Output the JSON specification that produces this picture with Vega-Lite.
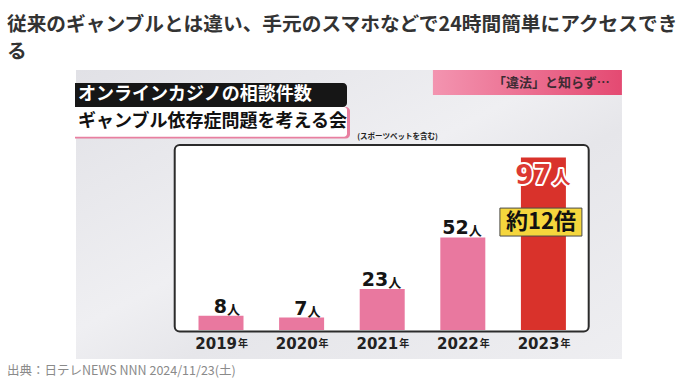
{
  "$schema": "https://vega.github.io/schema/vega-lite/v6.json",
  "width": 546,
  "height": 289,
  "autosize": {"type": "none"},
  "padding": {"left": 76, "top": 70, "right": 68, "bottom": 29},
  "background": "#ffffff",
  "config": {"view": {"stroke": null}, "text": {"font": "Noto Sans CJK JP"}},
  "title": {
    "text": ["従来のギャンブルとは違い、手元のスマホなどで24時間簡単にアクセスでき", "る"],
    "anchor": "start",
    "frame": "group",
    "dx": -69,
    "dy": 2,
    "offset": 10,
    "font": "Noto Sans CJK JP",
    "fontSize": 19.7,
    "fontWeight": "bold",
    "color": "#333333",
    "lineHeight": 27
  },
  "data": {"values": [
    {"year": "2019", "value": 8},
    {"year": "2020", "value": 7},
    {"year": "2021", "value": 23},
    {"year": "2022", "value": 52},
    {"year": "2023", "value": 97}
  ]},
  "encoding": {
    "x": {
      "field": "year", "type": "nominal",
      "scale": {"type": "band", "paddingInner": 0.226, "paddingOuter": 1, "align": 0.706},
      "axis": {"orient": "bottom", "offset": -16, "zindex": 2, "title": null, "domain": false, "ticks": false, "labelAngle": 0, "labelAlign": "right", "labelOffset": 16, "labelBaseline": "middle", "labelPadding": 0, "labelFont": "DejaVu Sans", "labelFontWeight": "bold", "labelFontSize": 15, "labelColor": "#222222", "grid": false}
    }
  },
  "layer": [
    {
      "data": {"values": [{}]},
      "mark": {"type": "rect", "fill": {"gradient": "linear", "x1": 0, "y1": 0, "x2": 1, "y2": 1, "stops": [{"offset": 0, "color": "#e1e1e6"}, {"offset": 0.45, "color": "#efeff2"}, {"offset": 0.6, "color": "#e6e6ea"}, {"offset": 1, "color": "#eeeef1"}]}},
      "encoding": {"x": null}
    },
    {
      "data": {"values": [{}]},
      "mark": {"type": "bar", "width": 189, "xOffset": -16, "fill": {"gradient": "linear", "x1": 0, "y1": 0, "x2": 1, "y2": 0, "stops": [{"offset": 0, "color": "#f394b0"}, {"offset": 1, "color": "#e44a72"}]}},
      "encoding": {"x": {"datum": "2023", "type": "nominal"}, "y": {"datum": 146.1, "type": "quantitative", "scale": {"domain": [-16.3, 146.1], "nice": false, "zero": false}, "axis": null}, "y2": {"datum": 132}}
    },
    {
      "data": {"values": [{}]},
      "mark": {"type": "text", "text": "「違法」と知らず…", "fontSize": 13, "fontWeight": "bold", "color": "#3d2b33", "align": "center", "baseline": "middle", "dx": 8},
      "encoding": {"x": {"datum": "2023", "type": "nominal"}, "y": {"datum": 138.8, "type": "quantitative"}}
    },
    {
      "data": {"values": [{}]},
      "mark": {"type": "bar", "width": 275, "xOffset": -8.5, "color": "#e87fa0", "cornerRadiusTopRight": 4, "cornerRadiusBottomRight": 4},
      "encoding": {"x": {"datum": "2019", "type": "nominal"}, "y": {"datum": 125.3, "type": "quantitative"}, "y2": {"datum": 107.6}}
    },
    {
      "data": {"values": [{}]},
      "mark": {"type": "bar", "width": 272, "xOffset": -10, "color": "#ffffff", "cornerRadiusTopRight": 3, "cornerRadiusBottomRight": 3},
      "encoding": {"x": {"datum": "2019", "type": "nominal"}, "y": {"datum": 125.3, "type": "quantitative"}, "y2": {"datum": 108.6}}
    },
    {
      "data": {"values": [{}]},
      "mark": {"type": "bar", "width": 272, "xOffset": -10, "color": "#161616", "cornerRadiusTopRight": 4, "cornerRadiusBottomRight": 4},
      "encoding": {"x": {"datum": "2019", "type": "nominal"}, "y": {"datum": 138.8, "type": "quantitative"}, "y2": {"datum": 125.3}}
    },
    {
      "data": {"values": [{}]},
      "mark": {"type": "text", "text": "オンラインカジノの相談件数", "fontSize": 18, "fontWeight": "bold", "color": "#ffffff", "align": "left", "baseline": "middle", "dx": -143},
      "encoding": {"x": {"datum": "2019", "type": "nominal"}, "y": {"datum": 132, "type": "quantitative"}}
    },
    {
      "data": {"values": [{}]},
      "mark": {"type": "text", "text": "ギャンブル依存症問題を考える会", "fontSize": 18, "fontWeight": "bold", "color": "#111111", "align": "left", "baseline": "middle", "dx": -143},
      "encoding": {"x": {"datum": "2019", "type": "nominal"}, "y": {"datum": 116.9, "type": "quantitative"}}
    },
    {
      "data": {"values": [{}]},
      "mark": {"type": "text", "text": "(スポーツベットを含む)", "fontSize": 7.5, "fontWeight": "bold", "color": "#222222", "align": "left", "baseline": "middle", "dx": -25},
      "encoding": {"x": {"datum": "2021", "type": "nominal"}, "y": {"datum": 108.4, "type": "quantitative"}}
    },
    {
      "data": {"values": [{}]},
      "mark": {"type": "bar", "width": 414, "xOffset": -0.5, "fill": "#ffffff", "stroke": "#2b2b2b", "strokeWidth": 2, "cornerRadius": 5},
      "encoding": {"x": {"datum": "2021", "type": "nominal"}, "y": {"datum": 104, "type": "quantitative"}, "y2": {"datum": -0.9}}
    },
    {
      "mark": {"type": "bar", "width": 45},
      "encoding": {
        "y": {"field": "value", "type": "quantitative"},
        "y2": {"datum": 0},
        "color": {"condition": {"test": "datum.year === '2023'", "value": "#d9322b"}, "value": "#e9789f"}
      }
    },
    {
      "transform": [{"filter": "datum.year !== '2023'"}],
      "mark": {"type": "text", "font": "DejaVu Sans", "fontWeight": "bold", "fontSize": 19, "color": "#151515", "align": "right", "baseline": "alphabetic", "dx": 6, "dy": -3},
      "encoding": {"y": {"field": "value", "type": "quantitative"}, "text": {"field": "value", "type": "quantitative"}}
    },
    {
      "transform": [{"filter": "datum.year !== '2023'"}],
      "mark": {"type": "text", "text": "人", "fontWeight": "bold", "fontSize": 13, "color": "#151515", "align": "left", "baseline": "alphabetic", "dx": 6, "dy": -2},
      "encoding": {"y": {"field": "value", "type": "quantitative"}}
    },
    {
      "transform": [{"filter": "datum.year === '2023'"}],
      "mark": {"type": "text", "font": "DejaVu Sans", "fontWeight": "bold", "fontSize": 26, "fill": "#ffffff", "stroke": "#ffffff", "strokeWidth": 4, "strokeJoin": "round", "align": "right", "baseline": "alphabetic", "dx": 8, "dy": 27},
      "encoding": {"y": {"field": "value", "type": "quantitative"}, "text": {"field": "value", "type": "quantitative"}}
    },
    {
      "transform": [{"filter": "datum.year === '2023'"}],
      "mark": {"type": "text", "font": "DejaVu Sans", "fontWeight": "bold", "fontSize": 26, "fill": "#dc3a33", "align": "right", "baseline": "alphabetic", "dx": 8, "dy": 27},
      "encoding": {"y": {"field": "value", "type": "quantitative"}, "text": {"field": "value", "type": "quantitative"}}
    },
    {
      "transform": [{"filter": "datum.year === '2023'"}],
      "mark": {"type": "text", "text": "人", "fontWeight": "bold", "fontSize": 18, "fill": "#ffffff", "stroke": "#ffffff", "strokeWidth": 4, "strokeJoin": "round", "align": "left", "baseline": "alphabetic", "dx": 9, "dy": 27},
      "encoding": {"y": {"field": "value", "type": "quantitative"}}
    },
    {
      "transform": [{"filter": "datum.year === '2023'"}],
      "mark": {"type": "text", "text": "人", "fontWeight": "bold", "fontSize": 18, "fill": "#dc3a33", "align": "left", "baseline": "alphabetic", "dx": 9, "dy": 27},
      "encoding": {"y": {"field": "value", "type": "quantitative"}}
    },
    {
      "data": {"values": [{}]},
      "mark": {"type": "bar", "width": 82, "xOffset": -2.5, "fill": "#f5d63d", "stroke": "#4a4a4a", "strokeWidth": 1},
      "encoding": {"x": {"datum": "2023", "type": "nominal"}, "y": {"datum": 68.5, "type": "quantitative"}, "y2": {"datum": 52.8}}
    },
    {
      "data": {"values": [{}]},
      "mark": {"type": "text", "text": "約12倍", "fontSize": 22, "fontWeight": "bold", "color": "#111111", "align": "center", "baseline": "middle", "dx": -2.5},
      "encoding": {"x": {"datum": "2023", "type": "nominal"}, "y": {"datum": 60.7, "type": "quantitative"}}
    },
    {
      "mark": {"type": "text", "text": "年", "fontWeight": "bold", "fontSize": 10, "color": "#222222", "align": "left", "baseline": "middle", "dx": 17, "dy": 1},
      "encoding": {"y": {"datum": -7.3, "type": "quantitative"}}
    },
    {
      "data": {"values": [{}]},
      "mark": {"type": "text", "text": "出典：日テレNEWS NNN 2024/11/23(土)", "fontSize": 12.5, "color": "#8a8a8a", "align": "left", "baseline": "middle", "dx": -214},
      "encoding": {"x": {"datum": "2019", "type": "nominal"}, "y": {"datum": -23, "type": "quantitative"}}
    }
  ]
}
